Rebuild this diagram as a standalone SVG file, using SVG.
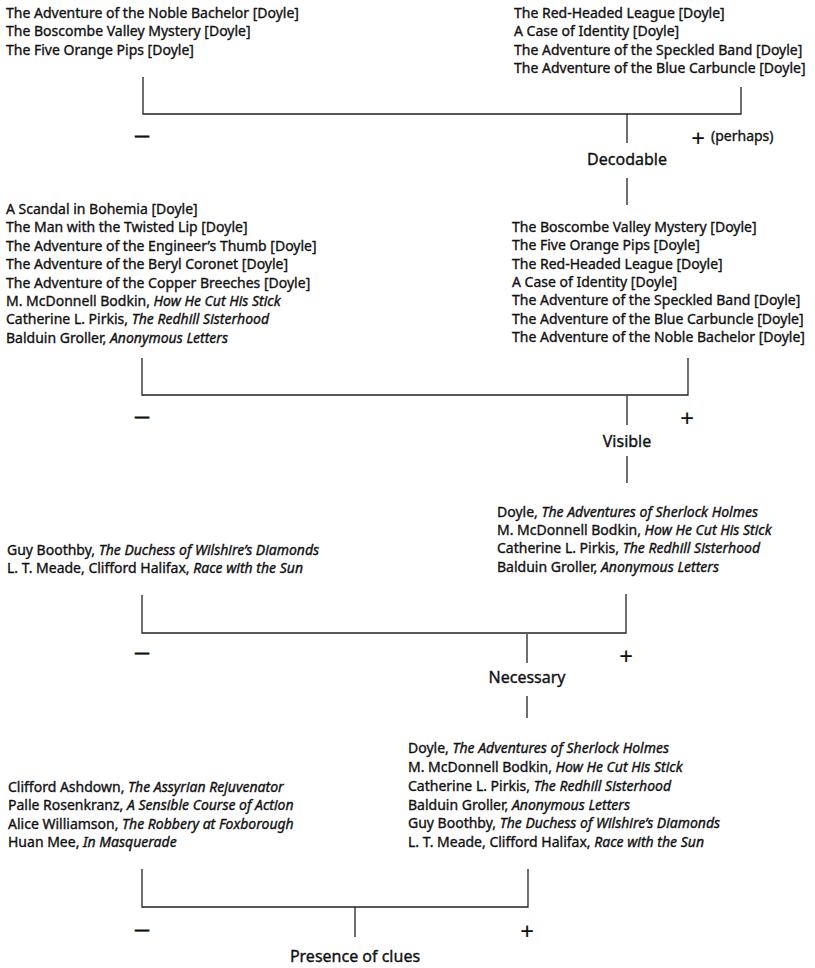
<svg xmlns="http://www.w3.org/2000/svg" width="815" height="968" viewBox="0 0 815 968">
<style>
text{font-family:"Noto Sans","DejaVu Sans",sans-serif;font-size:14px;fill:#111;stroke:#111;stroke-width:0.35}
.i{font-style:italic}
.lbl{font-size:16px;text-anchor:middle}
.sg{font-size:24px;text-anchor:middle;stroke-width:0.15}
.mn{font-size:15px;text-anchor:middle;stroke-width:0.9}
.c path{fill:none;stroke:#222;stroke-width:1.3}
</style>
<rect width="815" height="968" fill="#fff"/>
<g id="decodable-minus">
<text x="6" y="18">The Adventure of the Noble Bachelor [Doyle]</text>
<text x="6" y="36.3">The Boscombe Valley Mystery [Doyle]</text>
<text x="6" y="54.6">The Five Orange Pips [Doyle]</text>
</g>
<g id="decodable-plus">
<text x="514" y="18">The Red-Headed League [Doyle]</text>
<text x="514" y="36.3">A Case of Identity [Doyle]</text>
<text x="514" y="54.6">The Adventure of the Speckled Band [Doyle]</text>
<text x="514" y="72.9">The Adventure of the Blue Carbuncle [Doyle]</text>
</g>
<g id="decodable">
<text class="mn" x="142" y="141">—</text>
<text class="sg" x="698" y="146.5">+</text>
<text x="711" y="141">(perhaps)</text>
<text class="lbl" x="627" y="165">Decodable</text>
</g>
<g id="visible-minus">
<text x="6" y="214">A Scandal in Bohemia [Doyle]</text>
<text x="6" y="232.4">The Man with the Twisted Lip [Doyle]</text>
<text x="6" y="250.8">The Adventure of the Engineer’s Thumb [Doyle]</text>
<text x="6" y="269.2">The Adventure of the Beryl Coronet [Doyle]</text>
<text x="6" y="287.6">The Adventure of the Copper Breeches [Doyle]</text>
<text x="6" y="306">M. McDonnell Bodkin, <tspan class="i">How He Cut His Stick</tspan></text>
<text x="6" y="324.4">Catherine L. Pirkis, <tspan class="i">The Redhill Sisterhood</tspan></text>
<text x="6" y="342.8">Balduin Groller, <tspan class="i">Anonymous Letters</tspan></text>
</g>
<g id="visible-plus">
<text x="512" y="231.8">The Boscombe Valley Mystery [Doyle]</text>
<text x="512" y="250.2">The Five Orange Pips [Doyle]</text>
<text x="512" y="268.6">The Red-Headed League [Doyle]</text>
<text x="512" y="287">A Case of Identity [Doyle]</text>
<text x="512" y="305.4">The Adventure of the Speckled Band [Doyle]</text>
<text x="512" y="323.8">The Adventure of the Blue Carbuncle [Doyle]</text>
<text x="512" y="342.2">The Adventure of the Noble Bachelor [Doyle]</text>
</g>
<g id="visible">
<text class="mn" x="142" y="422">—</text>
<text class="sg" x="687" y="426.5">+</text>
<text class="lbl" x="627" y="447">Visible</text>
</g>
<g id="necessary-minus">
<text x="7" y="555">Guy Boothby, <tspan class="i">The Duchess of Wilshire’s Diamonds</tspan></text>
<text x="7" y="573.4">L. T. Meade, Clifford Halifax, <tspan class="i">Race with the Sun</tspan></text>
</g>
<g id="necessary-plus">
<text x="497" y="516.5">Doyle, <tspan class="i">The Adventures of Sherlock Holmes</tspan></text>
<text x="497" y="534.9">M. McDonnell Bodkin, <tspan class="i">How He Cut His Stick</tspan></text>
<text x="497" y="553.3">Catherine L. Pirkis, <tspan class="i">The Redhill Sisterhood</tspan></text>
<text x="497" y="571.7">Balduin Groller, <tspan class="i">Anonymous Letters</tspan></text>
</g>
<g id="necessary">
<text class="mn" x="142" y="658">—</text>
<text class="sg" x="626" y="664.5">+</text>
<text class="lbl" x="527" y="683">Necessary</text>
</g>
<g id="clues-minus">
<text x="8" y="792">Clifford Ashdown, <tspan class="i">The Assyrian Rejuvenator</tspan></text>
<text x="8" y="810.4">Palle Rosenkranz, <tspan class="i">A Sensible Course of Action</tspan></text>
<text x="8" y="828.8">Alice Williamson, <tspan class="i">The Robbery at Foxborough</tspan></text>
<text x="8" y="847.2">Huan Mee, <tspan class="i">In Masquerade</tspan></text>
</g>
<g id="clues-plus">
<text x="408" y="753.2">Doyle, <tspan class="i">The Adventures of Sherlock Holmes</tspan></text>
<text x="408" y="772">M. McDonnell Bodkin, <tspan class="i">How He Cut His Stick</tspan></text>
<text x="408" y="790.8">Catherine L. Pirkis, <tspan class="i">The Redhill Sisterhood</tspan></text>
<text x="408" y="809.6">Balduin Groller, <tspan class="i">Anonymous Letters</tspan></text>
<text x="408" y="828.4">Guy Boothby, <tspan class="i">The Duchess of Wilshire’s Diamonds</tspan></text>
<text x="408" y="847.2">L. T. Meade, Clifford Halifax, <tspan class="i">Race with the Sun</tspan></text>
</g>
<g id="clues">
<text class="mn" x="142" y="935">—</text>
<text class="sg" x="527" y="939.5">+</text>
<text class="lbl" x="355" y="962">Presence of clues</text>
</g>
<g class="c" id="connectors">
<path d="M143,77 V114 H741 V87"/>
<path d="M627,114 V143"/>
<path d="M627,178 V205"/>
<path d="M142,358 V395 H688 V358"/>
<path d="M627,396 V425"/>
<path d="M627,456 V483"/>
<path d="M142,595 V633 H626 V594"/>
<path d="M527,634 V663"/>
<path d="M527,696 V718"/>
<path d="M142,869 V907 H528 V869"/>
<path d="M355,907 V937"/>
</g>
</svg>
